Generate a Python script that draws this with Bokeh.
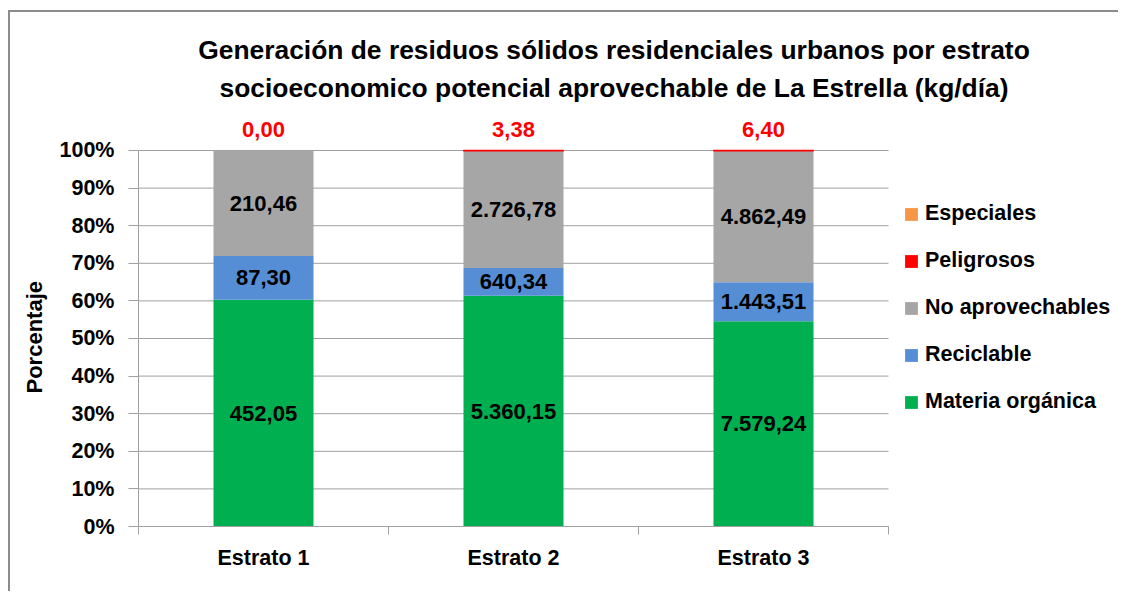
from bokeh.plotting import figure
from bokeh.models import (ColumnDataSource, LabelSet, Label, Legend, LegendItem,
                          FixedTicker, NumeralTickFormatter, Title)
from bokeh.embed import file_html
from bokeh.resources import INLINE
from bokeh.core.properties import value

# ---------------- data ----------------
categories = ["Estrato 1", "Estrato 2", "Estrato 3"]
materia_organica = [452.05, 5360.15, 7579.24]
reciclable = [87.30, 640.34, 1443.51]
no_aprovechables = [210.46, 2726.78, 4862.49]
peligrosos = [0.00, 3.38, 6.40]
especiales = [0.00, 0.00, 0.00]

series_names = ["Materia orgánica", "Reciclable", "No aprovechables", "Peligrosos", "Especiales"]
series_values = [materia_organica, reciclable, no_aprovechables, peligrosos, especiales]
series_colors = ["#00B050", "#558ED5", "#A6A6A6", "#FF0000", "#F79646"]

y_ticks = [i / 10 for i in range(11)]

title_lines = ["Generación de residuos sólidos residenciales urbanos por estrato",
               "socioeconomico potencial aprovechable de La Estrella (kg/día)"]
y_title = "Porcentaje"

FONT = "Liberation Sans"


def fmt_es(v):
    s = f"{v:,.2f}"
    return s.replace(",", "X").replace(".", ",").replace("X", ".")


n_cat = len(categories)

# ---------------- figure ----------------
# The frame spans the title and legend areas too; axis and grid are bounded to the data area.
p = figure(width=1110, height=581, x_range=(0, 3.928), y_range=(0, 1.367),
           output_backend="svg", toolbar_location=None,
           min_border_left=128, min_border_right=0,
           min_border_top=0, min_border_bottom=67)
p.styles = {"border-top": "2px solid #8c8c8c", "border-left": "2px solid #8c8c8c",
            "margin-left": "8px", "margin-top": "10px"}
p.outline_line_color = None
p.background_fill_color = "white"
p.border_fill_color = "white"

# chart title (two centred lines)
for txt, ty in zip(title_lines, [1.266, 1.165]):
    p.add_layout(Label(x=1.902, y=ty, text=txt, text_align="center",
                       text_baseline="middle", text_font=FONT,
                       text_font_size="26.4px", text_font_style="bold",
                       text_color="#000000"))

# y axis title
p.add_layout(Title(text=y_title, align="left", offset=133, text_font=FONT,
                   text_font_size="22px", text_font_style="bold",
                   text_color="#000000", standoff=19), "left")

# horizontal gridlines across the category area only
p.segment(x0=[0] * len(y_ticks), x1=[n_cat] * len(y_ticks), y0=y_ticks, y1=y_ticks,
          line_color="#a0a0a0", line_width=1)

x_pos = [i + 0.5 for i in range(n_cat)]
totals = [sum(vals[i] for vals in series_values) for i in range(n_cat)]

renderers = {}
cum = [0.0] * n_cat
for name, vals, color in zip(series_names, series_values, series_colors):
    bottom = [cum[i] / totals[i] for i in range(n_cat)]
    top = [(cum[i] + vals[i]) / totals[i] for i in range(n_cat)]
    cum = [cum[i] + vals[i] for i in range(n_cat)]
    src = ColumnDataSource(dict(
        x=x_pos, bottom=bottom, top=top,
        mid=[(b + t) / 2 for b, t in zip(bottom, top)],
        lbl=[fmt_es(v) for v in vals],
        la=[1.0 if v > 0 else 0.0 for v in vals],
    ))
    if name == "Peligrosos":
        r = p.vbar(x="x", width=0.4, bottom="bottom", top="top", source=src,
                   fill_color=color, line_color=color, line_alpha="la", line_width=1.5)
        lab = LabelSet(x="x", y="top", text="lbl", source=src, y_offset=13,
                       text_align="center", text_baseline="bottom",
                       text_font=value(FONT), text_font_size="22px",
                       text_font_style="bold", text_color="#FF0000")
        p.add_layout(lab)
    elif name == "Especiales":
        r = p.vbar(x="x", width=0.4, bottom="bottom", top="top", source=src,
                   fill_color=color, line_color=None)
    else:
        r = p.vbar(x="x", width=0.4, bottom="bottom", top="top", source=src,
                   fill_color=color, line_color=None)
        lab = LabelSet(x="x", y="mid", text="lbl", source=src,
                       text_align="center", text_baseline="middle",
                       text_font=value(FONT), text_font_size="22px",
                       text_font_style="bold", text_color="#000000")
        p.add_layout(lab)
    renderers[name] = r

# ---------------- axes ----------------
p.xaxis.ticker = FixedTicker(ticks=x_pos, minor_ticks=list(range(n_cat + 1)))
p.xaxis.bounds = (0, n_cat)
p.xaxis.major_label_overrides = {x: c for x, c in zip(x_pos, categories)}
p.xaxis.major_tick_out = 0
p.xaxis.major_tick_in = 0
p.xaxis.minor_tick_out = 8
p.xaxis.minor_tick_in = 0
p.xaxis.minor_tick_line_color = "#a0a0a0"
p.xaxis.axis_line_color = "#a0a0a0"
p.xaxis.major_label_standoff = 11
p.xaxis.major_label_text_font = FONT
p.xaxis.major_label_text_font_size = "21.5px"
p.xaxis.major_label_text_font_style = "bold"
p.xaxis.major_label_text_color = "#000000"

p.yaxis.ticker = FixedTicker(ticks=y_ticks)
p.yaxis.bounds = (0, 1)
p.yaxis.formatter = NumeralTickFormatter(format="0%")
p.yaxis.major_tick_out = 10
p.yaxis.major_tick_in = 0
p.yaxis.minor_tick_line_color = None
p.yaxis.major_tick_line_color = "#a0a0a0"
p.yaxis.axis_line_color = "#a0a0a0"
p.yaxis.major_label_standoff = 14
p.yaxis.major_label_text_font = FONT
p.yaxis.major_label_text_font_size = "21.5px"
p.yaxis.major_label_text_font_style = "bold"
p.yaxis.major_label_text_color = "#000000"

p.xgrid.grid_line_color = None
p.ygrid.grid_line_color = None

# ---------------- legend ----------------
items = [LegendItem(label=n, renderers=[renderers[n]]) for n in reversed(series_names)]
legend = Legend(items=items, location=(765, 112), orientation="vertical",
                border_line_color=None, background_fill_alpha=0,
                padding=0, margin=0, spacing=22,
                glyph_width=16, glyph_height=16, label_height=24,
                label_standoff=6, label_text_font=FONT,
                label_text_font_size="21.5px", label_text_font_style="bold",
                label_text_color="#000000")
p.add_layout(legend, "center")

open("out.html", "w").write(file_html(p, INLINE))
